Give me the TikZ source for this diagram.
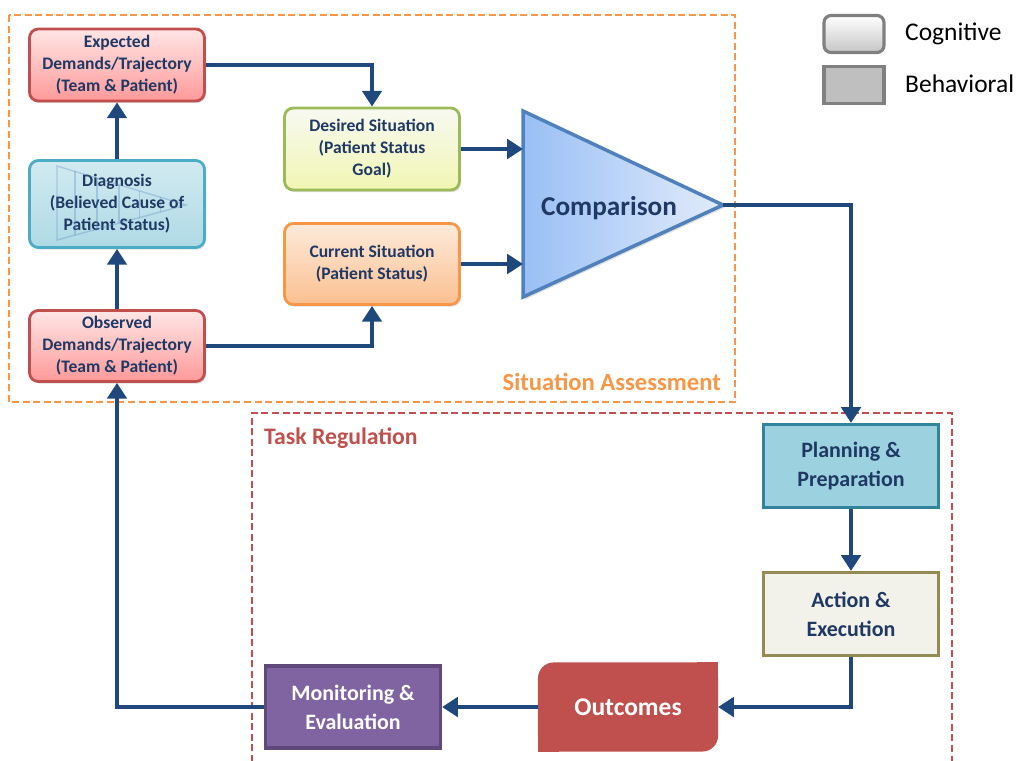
\documentclass[tikz,border=0pt]{standalone}
\usepackage{fontspec}
\setmainfont{Carlito}
\usepackage{tikz}
\usetikzlibrary{arrows.meta}
\usetikzlibrary{calc}
\usetikzlibrary{shadows}
\definecolor{navy}{HTML}{1F497D}
\definecolor{boxtxt}{HTML}{1F3864}
\definecolor{mred}{HTML}{C0504D}
\definecolor{morange}{HTML}{F79646}
\definecolor{mgreen}{HTML}{9BBB59}
\definecolor{mblue}{HTML}{4BACC6}
\definecolor{mteal}{HTML}{31849B}
\definecolor{molive}{HTML}{948A54}
\definecolor{mpurple}{HTML}{8064A2}
\definecolor{mdpurple}{HTML}{5F497A}
\definecolor{tri}{HTML}{4F81BD}
\definecolor{trileft}{HTML}{99BFF5}
\definecolor{triright}{HTML}{E2ECFB}
\tikzset{cog/.style = {rounded corners = 5pt, line width = 1.6pt, text = boxtxt, align = center,
                       font = \bfseries\fontsize{10}{12.5}\selectfont, minimum width = 3.5cm,
                       drop shadow = {opacity = 0.25, shadow xshift = 0.8pt, shadow yshift = -1.2pt}},
         beh/.style = {line width = 1.8pt, text = boxtxt, align = center,
                       font = \bfseries\fontsize{12.5}{16.5}\selectfont, minimum width = 3.5cm, minimum height = 1.66cm},
         flow/.style = {navy, line width = 2.6pt, -{Triangle[length = 9pt, width = 11pt]}},
         zone/.style = {line width = 1.2pt, dash pattern = on 4pt off 2pt}}

\begin{document}
\begin{tikzpicture}[x = 0.02cm, y = -0.02cm]
       \useasboundingbox (0, 0) rectangle (1026, 760);

       % the two regions
       \draw [zone, morange] (9, 15) rectangle (735, 402);
       \node [morange, anchor = east, font = \bfseries\fontsize{14}{16}\selectfont] (sa) at (727, 382) {Situation Assessment};
       \draw [zone, mred] (252, 762) |- (952, 413) -- (952, 762);
       \node [mred, anchor = west, font = \bfseries\fontsize{13.5}{16}\selectfont] (tr) at (258, 438) {Task Regulation};

       % cognitive boxes
       \node [cog, draw = mred, top color = red!10, bottom color = red!40!white, minimum height = 1.44cm] (exp) at (117, 65)
             {Expected\\Demands/Trajectory\\(Team \& Patient)};
       \node [cog, draw = mblue, top color = mblue!25, bottom color = mblue!45, minimum height = 1.74cm] (diag) at (117, 204)
             {Diagnosis\\(Believed Cause of\\Patient Status)};
       \node [cog, draw = mred, top color = red!10, bottom color = red!40!white, minimum height = 1.42cm] (obs) at (117, 346)
             {Observed\\Demands/Trajectory\\(Team \& Patient)};
       \node [cog, draw = mgreen, top color = mgreen!8!white, bottom color = mgreen!40!yellow!35!white, minimum height = 1.64cm] (des) at (372, 149)
             {Desired Situation\\(Patient Status\\Goal)};
       \node [cog, draw = morange, top color = morange!20, bottom color = morange!60, minimum height = 1.62cm] (cur) at (372, 264)
             {Current Situation\\(Patient Status)};

       % faint funnel inside the diagnosis box
       \coordinate (fa) at (57, 166);
       \coordinate (fb) at (57, 240);
       \coordinate (fc) at (186, 205);
       \draw [tri, opacity = 0.3, line width = 0.8pt] (fa) -- (fc) -- (fb) -- cycle;
       \foreach \t in {0.14, 0.31, 0.48, 0.64, 0.8}
         \draw [tri, opacity = 0.3, line width = 0.8pt] ($(fa)!\t!(fc)$) -- ($(fb)!\t!(fc)$);

       % comparison
       \coordinate (cmpa) at (523, 111);
       \coordinate (cmpb) at (523, 297);
       \coordinate (cmpe) at (723, 205);
       \coordinate (cmpw) at (523, 205);
       \draw [tri, line width = 2pt, left color = trileft, right color = triright,
              drop shadow = {opacity = 0.25, shadow xshift = 1pt, shadow yshift = -1.5pt}]
             (cmpa) -- (cmpe) -- (cmpb) -- cycle;
       \node [boxtxt, font = \bfseries\fontsize{15.5}{18}\selectfont] (cmp) at (609, 208) {Comparison};

       % behavioral boxes
       \node [beh, draw = mteal, fill = mblue!55!white] (plan) at (851, 466) {Planning \&\\Preparation};
       \node [beh, draw = molive, fill = molive!12!white] (act) at (851, 614) {Action \&\\Execution};
       \node [beh, minimum height = 1.72cm, minimum width = 3.54cm] (outc) at (628, 707) {};
       \fill [mred, rounded corners = 9pt] (outc.south west) rectangle (outc.north east);
       \fill [mred] (outc.south west) rectangle ([shift = {(12pt, 12pt)}] outc.south west);
       \fill [mred] (outc.north east) rectangle ([shift = {(-12pt, -12pt)}] outc.north east);
       \node [text = white, font = \bfseries\fontsize{14.5}{17}\selectfont] (outlbl) at (outc) {Outcomes};
       \node [beh, draw = mdpurple, fill = mpurple, text = white, minimum height = 1.64cm] (mon) at (353, 707)
             {Monitoring \&\\Evaluation};

       % connectors
       \draw [flow] (obs) -- (diag);
       \draw [flow] (diag) -- (exp);
       \draw [flow] (exp.east) -| (des.north);
       \draw [flow] (obs.east) -| (cur.south);
       \draw [flow] (des.east) -- (des.east -| cmpw);
       \draw [flow] (cur.east) -- (cur.east -| cmpw);
       \draw [flow] (cmpe) -| (plan.north);
       \draw [flow] (plan) -- (act);
       \draw [flow] (act.south) |- (outc.east);
       \draw [flow] (outc.west) -- (mon.east);
       \draw [flow] (mon.west) -| (obs.south);

       % key
       \node [draw = gray, line width = 1.8pt, rounded corners = 4pt, top color = white, bottom color = gray!45,
              minimum width = 1.2cm, minimum height = 0.74cm] (cogkey) at (854, 34) {};
       \node [draw = gray, line width = 1.8pt, fill = gray!50, minimum width = 1.2cm, minimum height = 0.74cm] (behkey) at (854, 85) {};
       \node [anchor = west, font = \fontsize{14.5}{16}\selectfont] (coglbl) at (899, 34) {Cognitive};
       \node [anchor = west, font = \fontsize{14.5}{16}\selectfont] (behlbl) at (899, 84) {Behavioral};
    \end{tikzpicture}
\end{document}
